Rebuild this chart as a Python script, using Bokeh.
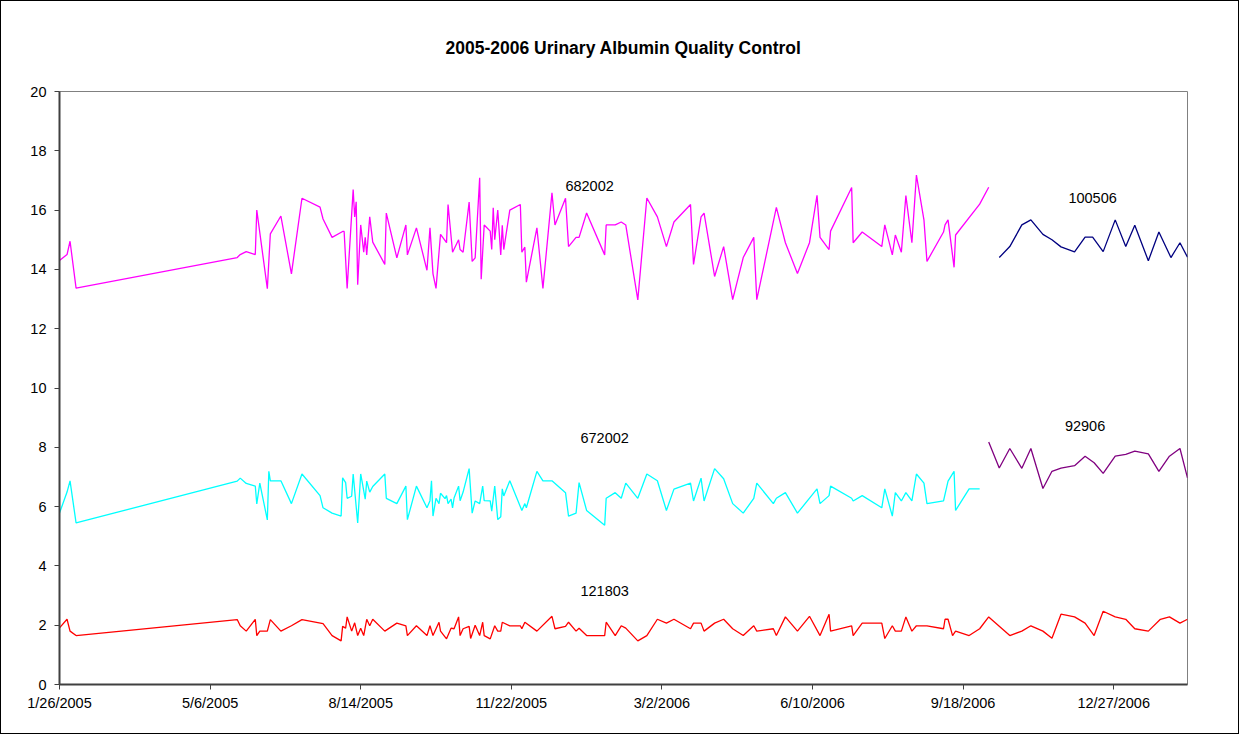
from datetime import date, timedelta
from bokeh.plotting import figure
from bokeh.models import Label, FixedTicker, Range1d
from bokeh.embed import file_html
from bokeh.resources import INLINE

# Day offsets from 1/26/2005 and measured values for each control lot
start_date = date(2005, 1, 26)

d682002 = [0, 5, 7, 11, 118, 120, 124, 130, 131, 138, 140, 147, 154, 161, 173, 175, 181, 188, 189, 191,
           195, 196, 197, 198, 200, 202, 203, 204, 206, 208, 216, 217, 224, 230, 231, 237, 244, 246, 248, 250,
           253, 257, 258, 261, 265, 266, 268, 272, 274, 276, 279, 280, 282, 286, 287, 288, 289, 291, 293, 294,
           295, 299, 306, 307, 309, 310, 317, 321, 327, 329, 336, 338, 343, 345, 350, 362, 363, 369, 373, 376,
           384, 390, 397, 403, 408, 419, 421, 426, 428, 435, 441, 447, 454, 461, 463, 476, 482, 490, 498, 503,
           505, 511, 512, 526, 527, 533, 546, 548, 553, 555, 559, 562, 566, 569, 574, 576, 587, 588, 590, 594,
           595, 611, 617]
v682002 = [14.3, 14.5, 14.95, 13.37, 14.4, 14.5, 14.6, 14.5, 16.0, 13.35, 15.2, 15.8, 13.85, 16.4, 16.1, 15.7, 15.08, 15.28, 15.28, 13.36,
           16.69, 15.77, 16.28, 13.48, 15.5, 14.58, 15.08, 14.49, 15.77, 14.92, 14.17, 15.9, 14.39, 15.5, 14.49, 15.4, 13.97, 15.4, 13.85, 13.36,
           15.18, 14.9, 16.19, 14.58, 15.0, 14.67, 14.58, 16.27, 14.27, 14.39, 17.09, 13.67, 15.5, 15.29, 14.67, 16.08, 15.0, 16.0, 14.49, 15.49,
           14.67, 16.0, 16.19, 14.58, 14.75, 13.57, 15.4, 13.36, 16.58, 15.5, 16.4, 14.77, 15.08, 15.08, 15.9, 14.49, 15.5, 15.5, 15.6, 15.5,
           12.97, 16.41, 15.77, 14.77, 15.6, 16.19, 14.17, 15.77, 15.9, 13.76, 14.77, 12.98, 14.4, 15.08, 12.98, 16.09, 14.9, 13.86, 14.9, 16.5,
           15.08, 14.67, 15.29, 16.76, 14.9, 15.26, 14.77, 15.5, 14.49, 15.16, 14.58, 16.49, 14.9, 17.18, 15.67, 14.27, 15.26, 15.5, 15.67, 14.07,
           15.16, 16.2, 16.77]

d672002 = [0, 5, 7, 11, 118, 120, 124, 130, 131, 133, 138, 139, 140, 147, 154, 161, 173, 175, 181, 187,
           188, 190, 191, 194, 195, 198, 200, 203, 204, 206, 208, 216, 217, 224, 230, 231, 237, 244, 246, 247,
           248, 250, 252, 253, 256, 257, 258, 260, 261, 262, 265, 266, 268, 272, 274, 276, 279, 281, 282, 286,
           287, 289, 291, 293, 294, 295, 299, 307, 309, 310, 317, 321, 327, 336, 338, 343, 345, 350, 362, 363,
           369, 373, 376, 384, 390, 397, 403, 408, 419, 421, 426, 428, 435, 441, 447, 454, 461, 463, 474, 476,
           482, 490, 503, 505, 511, 512, 526, 527, 533, 546, 548, 553, 555, 559, 562, 566, 569, 574, 576, 587,
           590, 594, 595, 604, 611]
v672002 = [5.78, 6.49, 6.87, 5.45, 6.86, 6.96, 6.78, 6.69, 6.09, 6.79, 5.55, 7.19, 6.87, 6.87, 6.1, 7.1, 6.37, 5.96, 5.78, 5.68,
           6.97, 6.81, 6.28, 6.35, 7.1, 5.45, 7.1, 6.25, 6.86, 6.49, 6.68, 7.1, 6.28, 6.1, 6.69, 5.56, 6.69, 5.96, 6.2, 6.87,
           5.68, 6.28, 6.1, 6.45, 6.27, 6.37, 6.1, 6.25, 5.96, 6.29, 6.69, 6.2, 6.49, 7.28, 5.78, 6.19, 6.1, 6.69, 6.2, 6.19,
           5.85, 6.69, 5.56, 5.66, 6.6, 6.36, 6.87, 5.87, 6.1, 5.96, 7.19, 6.87, 6.87, 6.47, 5.68, 5.78, 6.81, 5.87, 5.37, 6.28,
           6.47, 6.28, 6.79, 6.28, 7.1, 6.87, 5.87, 6.59, 6.79, 6.19, 6.96, 6.19, 7.28, 6.94, 6.1, 5.78, 6.28, 6.79, 6.1, 6.28,
           6.47, 5.78, 6.6, 6.1, 6.37, 6.69, 6.28, 6.19, 6.37, 5.96, 6.6, 5.68, 6.47, 6.19, 6.47, 6.19, 7.1, 6.79, 6.1, 6.19,
           6.86, 7.19, 5.87, 6.6, 6.6]

d121803 = [0, 5, 7, 11, 118, 120, 124, 130, 131, 133, 138, 140, 147, 154, 161, 175, 181, 187, 188, 190,
           191, 194, 196, 198, 200, 202, 204, 206, 208, 216, 224, 230, 231, 237, 244, 246, 248, 252, 253, 257,
           260, 262, 265, 266, 268, 272, 273, 276, 279, 281, 282, 286, 289, 291, 293, 294, 299, 306, 307, 309,
           317, 327, 329, 336, 338, 343, 345, 350, 362, 363, 369, 373, 376, 384, 390, 397, 403, 408, 419, 421,
           426, 428, 435, 441, 447, 454, 461, 463, 474, 476, 482, 490, 498, 505, 511, 512, 526, 527, 533, 546,
           548, 553, 555, 559, 562, 566, 569, 576, 587, 588, 590, 593, 595, 604, 611, 617, 631, 639, 645, 653,
           659, 665, 674, 681, 687, 693, 701, 708, 714, 723, 731, 737, 744, 749]
v121803 = [1.91, 2.2, 1.8, 1.65, 2.19, 1.98, 1.8, 2.2, 1.65, 1.8, 1.8, 2.19, 1.8, 1.98, 2.19, 2.05, 1.65, 1.47, 1.96, 1.9,
           2.28, 1.8, 2.08, 1.65, 1.9, 1.65, 2.2, 1.98, 2.2, 1.8, 2.07, 1.98, 1.65, 1.98, 1.65, 1.98, 1.65, 2.1, 1.8, 1.54,
           1.9, 1.88, 2.28, 1.65, 1.88, 1.96, 1.55, 2.0, 1.65, 2.1, 1.65, 1.54, 1.98, 1.8, 1.8, 2.1, 1.98, 1.98, 1.88, 2.1,
           1.8, 2.3, 1.88, 1.96, 2.1, 1.8, 1.9, 1.65, 1.65, 2.1, 1.65, 1.98, 1.9, 1.47, 1.65, 2.2, 2.07, 2.2, 1.88, 2.07,
           2.07, 1.8, 2.07, 2.2, 1.88, 1.65, 1.98, 1.8, 1.88, 1.65, 2.28, 1.8, 2.3, 1.65, 2.37, 1.8, 1.98, 1.65, 2.07, 2.07,
           1.55, 1.98, 1.8, 1.8, 2.28, 1.8, 1.98, 1.98, 1.88, 2.2, 2.2, 1.65, 1.8, 1.65, 1.88, 2.28, 1.65, 1.8, 1.98, 1.8,
           1.56, 2.37, 2.28, 2.07, 1.65, 2.47, 2.28, 2.2, 1.88, 1.8, 2.2, 2.28, 2.07, 2.2]

d100506 = [624, 631, 639, 645, 653, 659, 665, 674, 681, 686, 693, 701, 708, 714, 723, 730, 738, 744, 749]
v100506 = [14.4, 14.77, 15.5, 15.67, 15.18, 15.0, 14.76, 14.59, 15.09, 15.09, 14.6, 15.67, 14.77, 15.49, 14.29, 15.26, 14.4, 14.9, 14.41]

d92906 = [617, 624, 631, 639, 645, 653, 659, 665, 674, 681, 687, 693, 701, 708, 714, 723, 730, 737, 744, 749]
v92906 = [8.18, 7.3, 7.96, 7.29, 7.96, 6.61, 7.19, 7.3, 7.38, 7.7, 7.48, 7.12, 7.7, 7.76, 7.87, 7.78, 7.19, 7.7, 7.96, 6.97]

series_names = ["682002", "672002", "121803", "100506", "92906"]
series_colors = ["#FF00FF", "#00FFFF", "#FF0000", "#000080", "#800080"]

x_tick_days = [0, 100, 200, 300, 400, 500, 600, 700]
x_tick_labels = []
for k in x_tick_days:
    dd = start_date + timedelta(days=k)
    x_tick_labels.append(f"{dd.month}/{dd.day}/{dd.year}")
y_ticks = [0, 2, 4, 6, 8, 10, 12, 14, 16, 18, 20]

FONT = "Liberation Sans"

p = figure(width=1237, height=732, output_backend="svg", toolbar_location=None,
           x_range=Range1d(0, 749), y_range=Range1d(0, 20),
           min_border_left=58, min_border_top=90, min_border_right=51, min_border_bottom=49)
p.frame_width = 1128
p.frame_height = 593
p.styles = {"border": "1px solid #000000"}

p.title.text = "2005-2006 Urinary Albumin Quality Control"
p.title.align = "center"
p.title.text_font = FONT
p.title.text_font_size = "17.5px"
p.title.text_font_style = "bold"
p.title.text_color = "#000000"
p.title.standoff = 68

p.xgrid.visible = False
p.ygrid.visible = False
p.outline_line_color = "#808080"
p.outline_line_width = 1
p.background_fill_color = "white"
p.border_fill_color = "white"

for ax in (p.xaxis[0], p.yaxis[0]):
    ax.axis_line_color = "#404040"
    ax.axis_line_width = 2
    ax.major_tick_line_color = "#404040"
    ax.major_tick_line_width = 1
    ax.major_tick_out = 5
    ax.major_tick_in = 0
    ax.minor_tick_line_color = None
    ax.major_label_text_font = FONT
    ax.major_label_text_font_size = "14.5px"
    ax.major_label_text_color = "#000000"

p.xaxis.ticker = FixedTicker(ticks=x_tick_days)
p.xaxis.major_label_overrides = {k: lab for k, lab in zip(x_tick_days, x_tick_labels)}
p.xaxis.major_label_standoff = 5
p.yaxis.ticker = FixedTicker(ticks=y_ticks)
p.yaxis.major_label_standoff = 8

all_days = [d682002, d672002, d121803, d100506, d92906]
all_vals = [v682002, v672002, v121803, v100506, v92906]
for dd, vv, c in zip(all_days, all_vals, series_colors):
    p.line(dd, vv, line_color=c, line_width=1.3)

# Series labels (lot numbers), placed near their traces
label_pos = {"682002": (352, 16.8), "672002": (362, 8.3), "121803": (362, 3.17),
             "100506": (686, 16.4), "92906": (681, 8.73)}
for name in series_names:
    lx, ly = label_pos[name]
    p.add_layout(Label(x=lx, y=ly, text=name, text_font=FONT, text_font_size="14.5px",
                       text_align="center", text_baseline="middle", text_color="#000000"))

open("out.html", "w").write(file_html(p, INLINE))
